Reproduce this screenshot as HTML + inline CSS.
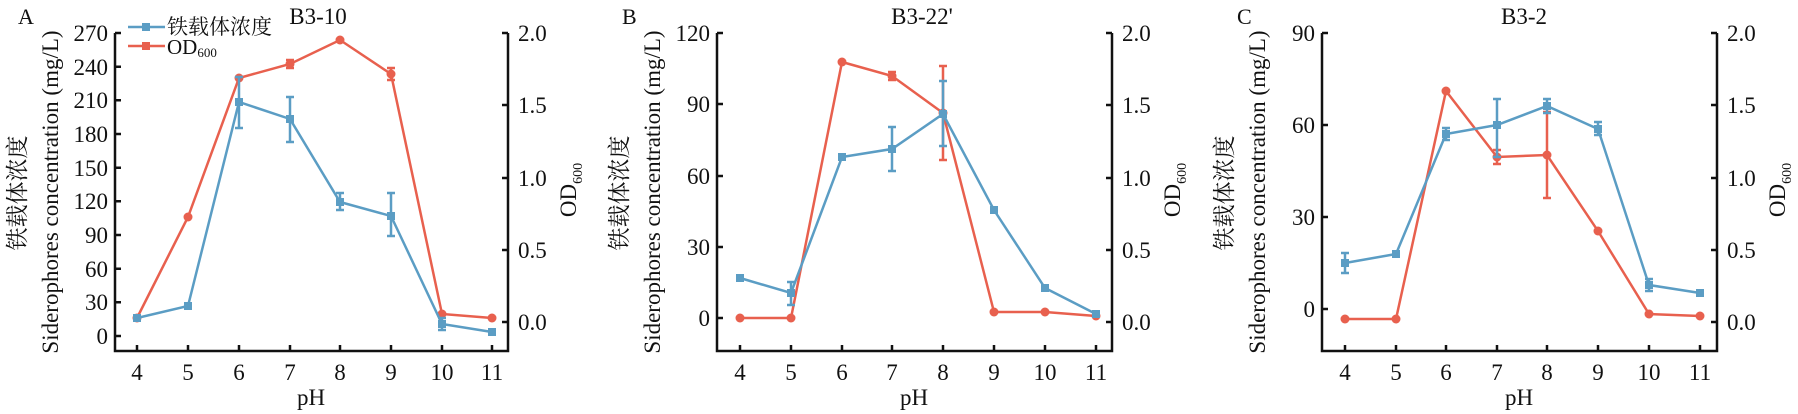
<!DOCTYPE html>
<html><head><meta charset="utf-8"><style>
html,body{margin:0;padding:0;background:#fff}
svg{display:block}
text{font-family:"Liberation Serif","Noto Serif CJK SC","Noto Sans CJK SC",serif;fill:#111}
.t{font-size:23px}
.ax{fill:none;stroke:#111;stroke-width:2.5}
.b{fill:none;stroke:#5b9dc4;stroke-width:2.5}
.r{fill:none;stroke:#e8604e;stroke-width:2.5}
.bm{fill:#5b9dc4}.rm{fill:#e8604e}
</style></head><body>
<svg width="1798" height="414" xmlns="http://www.w3.org/2000/svg">
<defs>
<rect id="bs" x="-4" y="-4" width="8" height="8" class="bm"/>
<circle id="rc" r="4.5" class="rm"/>
</defs>

<!-- ================= PANEL A ================= -->
<text x="18" y="24" style="font-size:22px">A</text>
<text x="318" y="24" text-anchor="middle" style="font-size:23px">B3-10</text>
<path class="ax" d="M115,33 V351 H508 V33"/>
<g stroke="#111" stroke-width="2.5">
<path d="M115,33h6M115,66.7h6M115,100.3h6M115,134h6M115,167.7h6M115,201.3h6M115,235h6M115,268.7h6M115,302.3h6M115,336h6"/>
<path d="M508,33h-6M508,105h-6M508,178h-6M508,250h-6M508,322h-6"/>
<path d="M137,351v-6M188,351v-6M239,351v-6M290,351v-6M340,351v-6M391,351v-6M442,351v-6M492,351v-6"/>
</g>
<g class="t" text-anchor="end">
<text x="108" y="41">270</text><text x="108" y="75">240</text><text x="108" y="108">210</text><text x="108" y="142">180</text><text x="108" y="176">150</text><text x="108" y="209">120</text><text x="108" y="243">90</text><text x="108" y="277">60</text><text x="108" y="310">30</text><text x="108" y="344">0</text>
</g>
<g class="t">
<text x="518" y="41">2.0</text><text x="518" y="113">1.5</text><text x="518" y="186">1.0</text><text x="518" y="258">0.5</text><text x="518" y="330">0.0</text>
</g>
<g class="t" text-anchor="middle">
<text x="137" y="380">4</text><text x="188" y="380">5</text><text x="239" y="380">6</text><text x="290" y="380">7</text><text x="340" y="380">8</text><text x="391" y="380">9</text><text x="442" y="380">10</text><text x="492" y="380">11</text>
<text x="311" y="405">pH</text>
</g>
<text transform="translate(58,192) rotate(-90)" text-anchor="middle" style="font-size:23px">Siderophores concentration (mg/L)</text>
<text transform="translate(25,193) rotate(-90)" text-anchor="middle" style="font-size:23px">铁载体浓度</text>
<text transform="translate(576,190) rotate(-90)" text-anchor="middle" style="font-size:23px">OD<tspan style="font-size:14px" dy="6">600</tspan></text>
<!-- legend -->
<path class="b" d="M128,27H165"/><use href="#bs" x="146" y="27"/>
<text x="167" y="34" style="font-size:21px">铁载体浓度</text>
<path class="r" d="M128,46H165"/><rect x="142" y="42" width="8" height="8" class="rm"/>
<text x="167" y="54" style="font-size:21px">OD<tspan style="font-size:13px" dy="3">600</tspan></text>
<!-- red A -->
<path class="r" d="M137,318 L188,217 L239,78 L290,64 L340,40 L391,74 L442,314 L492,318"/>
<path class="r" d="M391,68V80M387,68h8M387,80h8M290,60V68M286,60h8M286,68h8"/>
<g><use href="#rc" x="137" y="318"/><use href="#rc" x="188" y="217"/><use href="#rc" x="239" y="78"/><use href="#rc" x="290" y="64"/><use href="#rc" x="340" y="40"/><use href="#rc" x="391" y="74"/><use href="#rc" x="442" y="314"/><use href="#rc" x="492" y="318"/></g>
<!-- blue A -->
<path class="b" d="M137,318 L188,306 L239,102 L290,119 L340,202 L391,216 L442,324 L492,332"/>
<path class="b" d="M239,77V128M235,77h8M235,128h8M290,97V142M286,97h8M286,142h8M340,193V210M336,193h8M336,210h8M391,193V236M387,193h8M387,236h8M442,318V330M438,318h8M438,330h8"/>
<g><use href="#bs" x="137" y="318"/><use href="#bs" x="188" y="306"/><use href="#bs" x="239" y="102"/><use href="#bs" x="290" y="119"/><use href="#bs" x="340" y="202"/><use href="#bs" x="391" y="216"/><use href="#bs" x="442" y="324"/><use href="#bs" x="492" y="332"/></g>

<!-- ================= PANEL B ================= -->
<text x="622" y="24" style="font-size:22px">B</text>
<text x="922" y="24" text-anchor="middle" style="font-size:23px">B3-22'</text>
<path class="ax" d="M717,33 V351 H1112 V33"/>
<g stroke="#111" stroke-width="2.5">
<path d="M717,33h6M717,104h6M717,176h6M717,247h6M717,318h6"/>
<path d="M1112,33h-6M1112,105h-6M1112,178h-6M1112,250h-6M1112,322h-6"/>
<path d="M740,351v-6M791,351v-6M842,351v-6M892,351v-6M943,351v-6M994,351v-6M1045,351v-6M1096,351v-6"/>
</g>
<g class="t" text-anchor="end">
<text x="710" y="41">120</text><text x="710" y="112">90</text><text x="710" y="184">60</text><text x="710" y="255">30</text><text x="710" y="326">0</text>
</g>
<g class="t">
<text x="1122" y="41">2.0</text><text x="1122" y="113">1.5</text><text x="1122" y="186">1.0</text><text x="1122" y="258">0.5</text><text x="1122" y="330">0.0</text>
</g>
<g class="t" text-anchor="middle">
<text x="740" y="380">4</text><text x="791" y="380">5</text><text x="842" y="380">6</text><text x="892" y="380">7</text><text x="943" y="380">8</text><text x="994" y="380">9</text><text x="1045" y="380">10</text><text x="1096" y="380">11</text>
<text x="914" y="405">pH</text>
</g>
<text transform="translate(660,192) rotate(-90)" text-anchor="middle" style="font-size:23px">Siderophores concentration (mg/L)</text>
<text transform="translate(627,193) rotate(-90)" text-anchor="middle" style="font-size:23px">铁载体浓度</text>
<text transform="translate(1180,190) rotate(-90)" text-anchor="middle" style="font-size:23px">OD<tspan style="font-size:14px" dy="6">600</tspan></text>
<!-- red B -->
<path class="r" d="M740,318 L791,318 L842,62 L892,76 L943,113 L994,312 L1045,312 L1096,316"/>
<path class="r" d="M892,72V80M888,72h8M888,80h8M943,66V160M939,66h8M939,160h8"/>
<g><use href="#rc" x="740" y="318"/><use href="#rc" x="791" y="318"/><use href="#rc" x="842" y="62"/><use href="#rc" x="892" y="76"/><use href="#rc" x="943" y="113"/><use href="#rc" x="994" y="312"/><use href="#rc" x="1045" y="312"/><use href="#rc" x="1096" y="316"/></g>
<!-- blue B -->
<path class="b" d="M740,278 L791,293 L842,157 L892,149 L943,114 L994,210 L1045,288 L1096,314"/>
<path class="b" d="M791,282V305M787,282h8M787,305h8M892,127V171M888,127h8M888,171h8M943,81V146M939,81h8M939,146h8"/>
<g><use href="#bs" x="740" y="278"/><use href="#bs" x="791" y="293"/><use href="#bs" x="842" y="157"/><use href="#bs" x="892" y="149"/><use href="#bs" x="943" y="114"/><use href="#bs" x="994" y="210"/><use href="#bs" x="1045" y="288"/><use href="#bs" x="1096" y="314"/></g>

<!-- ================= PANEL C ================= -->
<text x="1237" y="24" style="font-size:22px">C</text>
<text x="1524" y="24" text-anchor="middle" style="font-size:23px">B3-2</text>
<path class="ax" d="M1322,33 V351 H1717 V33"/>
<g stroke="#111" stroke-width="2.5">
<path d="M1322,33h6M1322,125h6M1322,217h6M1322,309h6"/>
<path d="M1717,33h-6M1717,105h-6M1717,178h-6M1717,250h-6M1717,322h-6"/>
<path d="M1345,351v-6M1396,351v-6M1446,351v-6M1497,351v-6M1547,351v-6M1598,351v-6M1649,351v-6M1700,351v-6"/>
</g>
<g class="t" text-anchor="end">
<text x="1315" y="41">90</text><text x="1315" y="133">60</text><text x="1315" y="225">30</text><text x="1315" y="317">0</text>
</g>
<g class="t">
<text x="1727" y="41">2.0</text><text x="1727" y="113">1.5</text><text x="1727" y="186">1.0</text><text x="1727" y="258">0.5</text><text x="1727" y="330">0.0</text>
</g>
<g class="t" text-anchor="middle">
<text x="1345" y="380">4</text><text x="1396" y="380">5</text><text x="1446" y="380">6</text><text x="1497" y="380">7</text><text x="1547" y="380">8</text><text x="1598" y="380">9</text><text x="1649" y="380">10</text><text x="1700" y="380">11</text>
<text x="1519" y="405">pH</text>
</g>
<text transform="translate(1265,192) rotate(-90)" text-anchor="middle" style="font-size:23px">Siderophores concentration (mg/L)</text>
<text transform="translate(1232,193) rotate(-90)" text-anchor="middle" style="font-size:23px">铁载体浓度</text>
<text transform="translate(1785,190) rotate(-90)" text-anchor="middle" style="font-size:23px">OD<tspan style="font-size:14px" dy="6">600</tspan></text>
<!-- red C -->
<path class="r" d="M1345,319 L1396,319 L1446,91 L1497,157 L1547,155 L1598,231 L1649,314 L1700,316"/>
<path class="r" d="M1497,150V164M1493,150h8M1493,164h8M1547,112V198M1543,112h8M1543,198h8"/>
<g><use href="#rc" x="1345" y="319"/><use href="#rc" x="1396" y="319"/><use href="#rc" x="1446" y="91"/><use href="#rc" x="1497" y="157"/><use href="#rc" x="1547" y="155"/><use href="#rc" x="1598" y="231"/><use href="#rc" x="1649" y="314"/><use href="#rc" x="1700" y="316"/></g>
<!-- blue C -->
<path class="b" d="M1345,263 L1396,254 L1446,134 L1497,125 L1547,106 L1598,129 L1649,285 L1700,293"/>
<path class="b" d="M1345,253V273M1341,253h8M1341,273h8M1446,128V140M1442,128h8M1442,140h8M1497,99V157M1493,99h8M1493,157h8M1547,99V113M1543,99h8M1543,113h8M1598,122V135M1594,122h8M1594,135h8M1649,279V291M1645,279h8M1645,291h8"/>
<g><use href="#bs" x="1345" y="263"/><use href="#bs" x="1396" y="254"/><use href="#bs" x="1446" y="134"/><use href="#bs" x="1497" y="125"/><use href="#bs" x="1547" y="106"/><use href="#bs" x="1598" y="129"/><use href="#bs" x="1649" y="285"/><use href="#bs" x="1700" y="293"/></g>
</svg>
</body></html>
